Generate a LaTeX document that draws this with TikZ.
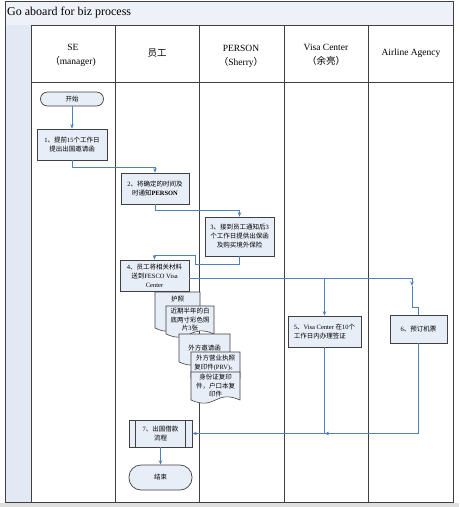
\documentclass[tikz,border=0pt]{standalone}
\usepackage{fontspec}
\setmainfont{Liberation Serif}
\newfontfamily\cjk{Noto Sans CJK SC}
\usepackage{tikz}
\usetikzlibrary{calc,arrows.meta}
\tikzset{>={Stealth[length=4.5pt,width=3.5pt]}}
\definecolor{lanefill}{RGB}{226,233,244}
\definecolor{titlefill}{RGB}{238,241,247}
\definecolor{boxfill}{RGB}{232,238,247}
\definecolor{flowblue}{RGB}{79,129,189}
\definecolor{edgegray}{RGB}{64,64,64}
\newcommand{\zh}[1]{{\cjk #1}}
% name, left, top, right, bottom, text y, text
\newcommand{\paperdoc}[7]{%
  \filldraw[fill=boxfill,draw=edgegray,line width=0.6pt] (#2,#3) -- (#4,#3) -- (#4,#5)
    .. controls ({(#2+#4)/2},{#5-11}) and ({(#2+#4)/2},{#5+11}) .. (#2,#5) -- cycle;
  \node[doctext] (#1) at ({(#2+#4)/2},#6) {#7};}

\begin{document}
\begin{tikzpicture}[x=1pt,y=-1pt,
    lane/.style={draw=edgegray,line width=0.8pt},
    head/.style={align=center,font=\fontsize{9.5}{14}\selectfont},
    task/.style={draw=edgegray,fill=boxfill,line width=0.7pt,align=center,inner sep=1pt,font=\fontsize{6.5}{9}\selectfont},
    doctext/.style={align=center,inner sep=0pt,font=\fontsize{6.5}{8.5}\selectfont},
    flow/.style={draw=flowblue,line width=0.6pt,->},
    flowline/.style={draw=flowblue,line width=0.6pt}]
  \useasboundingbox (0,0) rectangle (459,507);
  \fill[white] (0,0) rectangle (459,507);
  \fill[gray!25] (0,503) rectangle (459,507);
  % frame and lanes
  \filldraw[fill=titlefill,draw=edgegray,line width=0.8pt] (5,1) rectangle (453,25);
  \fill[lanefill] (5,25) rectangle (31,502);
  \draw[lane] (5,1) rectangle (453,502);
  \draw[lane] (31,25) -- (31,502);
  \draw[lane] (115,25) -- (115,502);
  \draw[lane] (199,25) -- (199,502);
  \draw[lane] (284,25) -- (284,502);
  \draw[lane] (368,25) -- (368,502);
  \draw[lane] (31,82) -- (453,82);
  \node[anchor=west,inner sep=0pt,font=\fontsize{12}{14}\selectfont] (title) at (7,13) {Go aboard for biz process};
  \node[head] (hse) at (73,55) {SE\\\zh{（}manager)};
  \node[head] (hstaff) at (157,53) {\zh{员工}};
  \node[head] (hperson) at (241,56) {PERSON\\\zh{（}Sherry\zh{）}};
  \node[head] (hvisa) at (326,55) {Visa Center\\\zh{（余亮）}};
  \node[head] (hair) at (411,53) {Airline Agency};
  % steps
  \node[task,rounded corners=7pt,minimum width=63pt,minimum height=14pt] (start) at (72,99) {\zh{开始}};
  \node[task,minimum width=70pt,minimum height=31pt] (box1) at (72,144.5) {1\zh{、提前}15\zh{个工作日}\\\zh{提出出国邀请函}};
  \node[task,minimum width=68pt,minimum height=31pt] (box2) at (155,188.5) {2\zh{、将确定的时间及}\\\zh{时通知}\textbf{PERSON}};
  \node[task,minimum width=69pt,minimum height=39pt] (box3) at (239.5,236.5) {3\zh{、接到员工通知后}3\\\zh{个工作日提供出保函}\\\zh{及购买境外保险}};
  \node[task,minimum width=69pt,minimum height=31pt] (box4) at (154.5,275.5) {4\zh{、员工将相关材料}\\\zh{送到}FESCO Visa\\Center};
  \node[task,align=left,minimum width=73pt,minimum height=31pt] (box5) at (324.5,331.5) {5\zh{、}Visa Center \zh{在}10\zh{个}\\\zh{工作日内办理签证}};
  \node[task,minimum width=57pt,minimum height=28pt] (box6) at (418.5,329) {6\zh{、预订机票}};
  \node[task,minimum width=63pt,minimum height=27pt] (box7) at (160.5,433.5) {7\zh{、出国借款}\\\zh{流程}};
  \draw[edgegray,line width=0.6pt] ([xshift=7pt]box7.north west) -- ([xshift=7pt]box7.south west);
  \draw[edgegray,line width=0.6pt] ([xshift=-7pt]box7.north east) -- ([xshift=-7pt]box7.south east);
  \node[task,rounded corners=12pt,minimum width=63pt,minimum height=25pt] (stop) at (160.5,477.5) {\zh{结束}};
  % papers
  \paperdoc{docpass}{155}{292}{200}{328}{299}{\zh{护照}}
  \paperdoc{docphoto}{166}{306}{214}{334}{320}{\zh{近期半年的白}\\\zh{底两寸彩色照}\\\zh{片}3\zh{张}}
  \paperdoc{docinvite}{179}{334}{230}{362}{348}{\zh{外方邀请函}}
  \paperdoc{doclicense}{191}{352}{240}{378}{363}{\zh{外方营业执照}\\\zh{复印件}(PRV)\zh{。}}
  \paperdoc{docid}{191}{372}{240}{400}{386}{\zh{身份证复印}\\\zh{件，户口本复}\\\zh{印件}}
  % connectors
  \draw[flow] (start.south) -- (box1.north);
  \draw[flow] (box1.south) -- ++(0,7) -| (box2.north);
  \draw[flow] (box2.south) -- ++(0,6) -| (box3.north);
  \draw[flow] (box3.south) -- ++(0,8) -- ++(-44,0) -- ++(0,-9) -| (box4.north);
  \coordinate (out4) at ([yshift=-3pt]box4.east);
  \coordinate (tip6) at (412,286);
  \draw[flow] (out4) -| (tip6);
  \draw[flowline] (tip6) -- ++(0,21) -| (box6.north);
  \coordinate (split5) at (box5.north |- out4);
  \draw[flow] (split5) -- (box5.north);
  \draw[flow] (box5.south) |- (box7.east);
  \coordinate (merge5) at (box5.south |- box7.east);
  \draw[flow] (box6.south) |- (merge5);
  \draw[flow] (box7.south) -- (stop.north);
\end{tikzpicture}
\end{document}
